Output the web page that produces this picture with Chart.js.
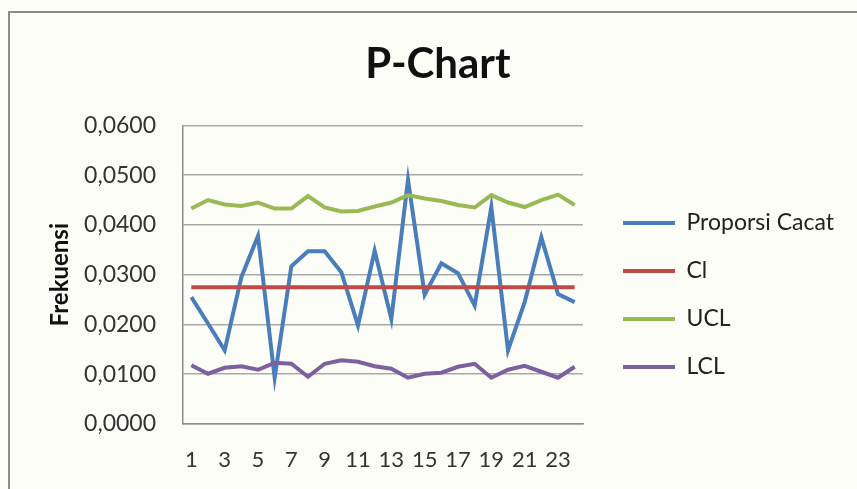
<!DOCTYPE html>
<html>
<head>
<meta charset="utf-8">
<script src="https://cdn.jsdelivr.net/npm/chart.js@4/dist/chart.umd.min.js"></script>
<style>
  html, body { margin: 0; padding: 0; background: #fdfdf7; overflow: hidden; }
  #frame { position: absolute; left: 8px; top: 11px; width: 900px; height: 500px;
           border-left: 2px solid #8c8c8c; border-top: 2px solid #8c8c8c; }
  #pChart { position: absolute; left: 0; top: 0; }
</style>
</head>
<body>
<div id="frame"></div>
<canvas id="pChart" width="857" height="489"></canvas>
<script>
const categories = ['1', '2', '3', '4', '5', '6', '7', '8', '9', '10', '11', '12',
  '13', '14', '15', '16', '17', '18', '19', '20', '21', '22', '23', '24'];

const proporsiCacat = [0.0255, 0.0202, 0.0148, 0.0295, 0.0378, 0.0093, 0.0317, 0.0347,
  0.0347, 0.0305, 0.0198, 0.0348, 0.0211, 0.0491, 0.0260, 0.0323, 0.0303, 0.0238,
  0.0436, 0.0148, 0.0245, 0.0375, 0.0261, 0.0245];

const cl = [0.0275, 0.0275, 0.0275, 0.0275, 0.0275, 0.0275, 0.0275, 0.0275,
  0.0275, 0.0275, 0.0275, 0.0275, 0.0275, 0.0275, 0.0275, 0.0275, 0.0275, 0.0275,
  0.0275, 0.0275, 0.0275, 0.0275, 0.0275, 0.0275];

const ucl = [0.0433, 0.0450, 0.0441, 0.0438, 0.0445, 0.0433, 0.0433, 0.0458,
  0.0435, 0.0427, 0.0428, 0.0437, 0.0445, 0.0460, 0.0453, 0.0448, 0.0440, 0.0435,
  0.0460, 0.0445, 0.0436, 0.0450, 0.0461, 0.0440];

const lcl = [0.0118, 0.0101, 0.0113, 0.0116, 0.0109, 0.0123, 0.0121, 0.0095,
  0.0121, 0.0128, 0.0125, 0.0116, 0.0111, 0.0093, 0.0101, 0.0103, 0.0115, 0.0121,
  0.0093, 0.0109, 0.0117, 0.0105, 0.0093, 0.0115];

const yMin = 0;
const yMax = 0.06;
const yStep = 0.01;

const FONT = 'Lato, "Open Sans", sans-serif';
const gridGray = '#a9a9a9';
const axisGray = '#8c8c8c';

function series(label, data, color, order) {
  return {
    label: label,
    data: data,
    borderColor: color,
    backgroundColor: color,
    borderWidth: 4,
    pointRadius: 0,
    tension: 0,
    order: order,
  };
}

new Chart(document.getElementById('pChart'), {
  type: 'line',
  data: {
    labels: categories,
    datasets: [
      series('Proporsi Cacat', proporsiCacat, '#4a7ebb', 4),
      series('Cl', cl, '#be4b48', 3),
      series('UCL', ucl, '#98b954', 2),
      series('LCL', lcl, '#7d60a0', 1),
    ],
  },
  options: {
    responsive: false,
    animation: false,
    layout: { padding: { left: 33, right: 14, top: 0, bottom: 16 } },
    scales: {
      x: {
        offset: true,
        afterFit: (s) => { s.height = 49; },
        grid: { display: false, drawTicks: false },
        border: { display: true, color: axisGray, width: 1.5 },
        ticks: {
          autoSkip: false,
          maxRotation: 0,
          padding: 23,
          color: '#333333',
          font: { family: FONT, size: 22 },
          callback: function (value, index) {
            return index % 2 === 0 ? this.getLabelForValue(value) : '';
          },
        },
      },
      y: {
        min: yMin,
        max: yMax,
        afterFit: (s) => { s.width = 150; },
        grid: { color: gridGray, lineWidth: 1.5, drawTicks: false },
        border: { display: true, color: axisGray, width: 1.5 },
        ticks: {
          stepSize: yStep,
          padding: 27,
          color: '#333333',
          font: { family: FONT, size: 23 },
          callback: (v) => v.toFixed(4).replace('.', ','),
        },
        title: {
          display: true,
          text: 'Frekuensi',
          color: '#111111',
          padding: { top: 13, bottom: 0 },
          font: { family: FONT, size: 24, weight: 'bold' },
        },
      },
      gap: {
        position: 'right',
        display: true,
        grid: { display: false },
        border: { display: false },
        ticks: { display: false },
        afterFit: (s) => { s.width = 15; },
      },
    },
    plugins: {
      title: {
        display: true,
        text: 'P-Chart',
        color: '#111111',
        padding: { top: 39, bottom: 36 },
        font: { family: FONT, size: 42, weight: 'bold' },
      },
      legend: {
        position: 'right',
        fullSize: false,
        maxWidth: 245,
        title: { display: true, text: '', padding: { top: 26, bottom: 0 }, font: { size: 12 } },
        labels: {
          boxWidth: 52,
          boxHeight: 4,
          padding: 25,
          color: '#222222',
          font: { family: FONT, size: 23 },
          sort: (a, b) => a.datasetIndex - b.datasetIndex,
          generateLabels: (chart) =>
            Chart.defaults.plugins.legend.labels.generateLabels(chart).map((item) => ({
              ...item,
              fillStyle: item.strokeStyle,
              lineWidth: 0,
            })),
        },
      },
      tooltip: { enabled: false },
    },
  },
});
</script>
</body>
</html>
